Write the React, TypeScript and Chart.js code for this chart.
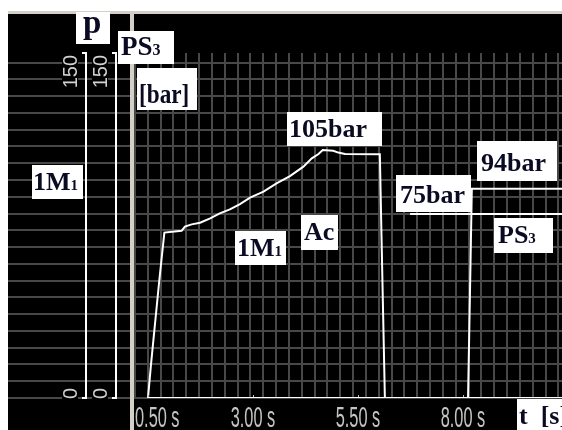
import React, { useEffect, useRef } from 'react';
import { Chart, registerables } from 'chart.js';

Chart.register(...registerables);

// ---- time axis (s) ----
const T_TICKS = [0.5, 3.0, 5.5, 8.0];
const T_TICK_LABELS = ['0.50 s', '3.00 s', '5.50 s', '8.00 s'];
const T_MIN = -2.833;
const T_MAX = 10.357;

// ---- pressure axes (bar) ----
const P_TICKS = [150, 0];
const P_TICK_LABELS = ['150', '0'];
const P_MIN = 0;
const P_MAX = 150;

// ---- 1M1 / Ac pressure curve ----
const T_1M1 = [0.5, 0.57, 0.77, 0.89, 1.30, 1.38, 1.54, 1.74, 1.98, 2.21, 2.45, 2.69, 2.93, 3.25, 3.56, 3.88, 4.20, 4.40, 4.56, 4.66, 4.91, 5.03, 5.19, 6.02, 6.06, 6.10, 6.14, 10.36];
const P_1M1 = [0, 14.3, 51.3, 71.9, 72.7, 74.5, 75.5, 76.2, 78.1, 80.3, 82.0, 84.3, 87.1, 89.7, 93.3, 96.5, 100.6, 104.2, 106.1, 107.8, 107.5, 106.7, 106.1, 106.0, 70.0, 34.8, 0, 0];

// ---- PS3 curve ----
const T_PS3 = [0.5, 8.12, 8.15, 8.18, 8.21, 10.36];
const P_PS3 = [0, 0, 30, 60, 91, 91];

// ---- 75 bar level line ----
const T_SET = [6.74, 10.36];
const P_SET = [80, 80];

// ---- background grid (screen grid of the simulator) ----
const GRID_X_COUNT = 33;
const GRID_Y_COUNT = 20;

// ---- annotation labels ----
type Run = [string, number];
const LABELS: { runs: Run[]; box: [number, number, number, number]; tx: number; ty: number; sx?: number }[] = [
  { runs: [['p', 33]], box: [76, 12, 34, 32], tx: 83, ty: 33 },
  { runs: [['PS', 27], ['3', 16]], box: [118, 31, 56, 33], tx: 121, ty: 55 },
  { runs: [['[bar]', 27]], box: [137, 68, 60, 42], tx: 139, ty: 103, sx: 0.86 },
  { runs: [['1M', 26], ['1', 15]], box: [32, 165, 51, 34], tx: 33, ty: 190 },
  { runs: [['1M', 26], ['1', 15]], box: [235, 231, 51, 34], tx: 237, ty: 256 },
  { runs: [['Ac', 26]], box: [301, 215, 37, 35], tx: 304, ty: 240 },
  { runs: [['105bar', 26]], box: [287, 112, 95, 34], tx: 289, ty: 137 },
  { runs: [['94bar', 26]], box: [477, 141, 80, 40], tx: 481, ty: 171 },
  { runs: [['75bar', 26]], box: [396, 175, 75, 37], tx: 400, ty: 203 },
  { runs: [['PS', 26], ['3', 15]], box: [494, 218, 59, 35], tx: 498, ty: 243 },
  { runs: [['t  [s]', 26]], box: [517, 399, 45, 31], tx: 519, ty: 424 },
];

const AXIS_X = [86, 116];

const toPts = (ts: number[], ps: number[]) => ts.map((t, i) => ({ x: t, y: ps[i] }));

const SERIF = "'Liberation Serif', 'Times New Roman', serif";
const SANS = "'Liberation Sans', Arial, sans-serif";

const bgPlugin = {
  id: 'bg',
  beforeDraw(chart: any) {
    const ctx = chart.ctx;
    ctx.save();
    ctx.fillStyle = '#ffffff';
    ctx.fillRect(0, 0, chart.width, chart.height);
    ctx.fillStyle = '#000000';
    ctx.fillRect(8, 14, chart.width - 8, chart.height - 14);
    ctx.fillStyle = '#d4d0c8';
    ctx.fillRect(8, 11, chart.width - 8, 3);
    ctx.restore();
  },
};

const overlayPlugin = {
  id: 'overlay',
  afterDraw(chart: any) {
    const ctx = chart.ctx;
    const xs = chart.scales.x;
    const ys = chart.scales.y;
    ctx.save();

    // separator bar
    ctx.fillStyle = '#d4d0c8';
    ctx.fillRect(130, 11, 4, chart.height - 11);
    const plotLeft = 134;

    // pressure axes
    const yTop = ys.getPixelForValue(P_MAX);
    const yBot = ys.getPixelForValue(P_MIN);
    ctx.font = `20px ${SANS}`;
    for (const ax of AXIS_X) {
      ctx.strokeStyle = '#ffffff';
      ctx.lineWidth = 2;
      ctx.beginPath();
      ctx.moveTo(ax - 4, yTop);
      ctx.lineTo(ax, yTop);
      ctx.lineTo(ax, yBot);
      ctx.lineTo(ax - 4, yBot);
      ctx.stroke();
      P_TICKS.forEach((v, i) => {
        const py = ys.getPixelForValue(v);
        const label = P_TICK_LABELS[i];
        const w = ctx.measureText(label).width;
        const start = i === 0 ? py + 2 + w : py + 1; // text runs upward from start
        ctx.fillStyle = '#000000';
        ctx.fillRect(ax - 24, start - w - 1, 16, w + 2);
        ctx.save();
        ctx.translate(ax - 9, start);
        ctx.rotate(-Math.PI / 2);
        ctx.fillStyle = '#d0d0d0';
        ctx.textAlign = 'left';
        ctx.textBaseline = 'alphabetic';
        ctx.fillText(label, 0, 0);
        ctx.restore();
      });
    }

    // time tick marks and labels
    ctx.font = `19px ${SANS}`;
    ctx.textBaseline = 'alphabetic';
    ctx.textAlign = 'left';
    const sx = 0.86;
    T_TICKS.forEach((v, i) => {
      const px = xs.getPixelForValue(v);
      ctx.fillStyle = '#bdbdbd';
      ctx.fillRect(Math.round(px), yBot - 3, 1, 2);
      const label = T_TICK_LABELS[i];
      const w = ctx.measureText(label).width * sx;
      const x0 = Math.max(plotLeft + 1, px - w / 2);
      ctx.save();
      ctx.translate(x0, 427);
      ctx.scale(sx, 1.6);
      ctx.fillStyle = '#c4c4c4';
      ctx.fillText(label, 0, 0);
      ctx.restore();
    });

    // annotation boxes
    for (const l of LABELS) {
      const [bx, by, bw, bh] = l.box;
      ctx.fillStyle = '#ffffff';
      ctx.fillRect(bx, by, bw, bh);
      ctx.save();
      ctx.translate(l.tx, l.ty);
      ctx.scale(l.sx ?? 1, 1);
      let x = 0;
      ctx.fillStyle = '#0a0a22';
      ctx.textAlign = 'left';
      for (const [t, s] of l.runs) {
        ctx.font = `bold ${s}px ${SERIF}`;
        ctx.fillText(t, x, 0);
        x += ctx.measureText(t).width;
      }
      ctx.restore();
    }
    ctx.restore();
  },
};

const gridColor = '#484848';

export default function App() {
  const ref = useRef<HTMLCanvasElement | null>(null);
  useEffect(() => {
    if (!ref.current) return;
    const lineStyle = {
      borderColor: '#ffffff',
      borderWidth: 2,
      pointRadius: 0,
      showLine: true,
      tension: 0,
      xAxisID: 'x',
      yAxisID: 'y',
    };
    const chart = new Chart(ref.current, {
      type: 'scatter',
      data: {
        datasets: [
          { label: 'PS3', data: toPts(T_PS3, P_PS3), ...lineStyle },
          { label: 'PS3 level', data: toPts(T_SET, P_SET), ...lineStyle },
          { label: '1M1', data: toPts(T_1M1, P_1M1), ...lineStyle },
        ],
      },
      options: {
        animation: false,
        responsive: false,
        devicePixelRatio: 1,
        layout: { padding: { left: 8, right: 0, top: 53, bottom: 32 } },
        plugins: { legend: { display: false }, tooltip: { enabled: false } },
        scales: {
          x: { type: 'linear', display: false, min: T_MIN, max: T_MAX },
          y: { type: 'linear', display: false, min: P_MIN, max: P_MAX },
          gx: {
            type: 'linear',
            position: 'bottom',
            min: -9.898,
            max: 33.281,
            afterBuildTicks: (s: any) => {
              s.ticks = Array.from({ length: GRID_X_COUNT + 1 }, (_, k) => ({ value: k }));
            },
            ticks: { display: false },
            grid: { drawTicks: false, color: gridColor, lineWidth: 2 },
            border: { display: false },
          },
          gy: {
            type: 'linear',
            position: 'left',
            min: 0,
            max: 20.572,
            afterBuildTicks: (s: any) => {
              s.ticks = Array.from({ length: GRID_Y_COUNT + 1 }, (_, k) => ({ value: k }));
            },
            ticks: { display: false },
            grid: { drawTicks: false, color: gridColor, lineWidth: 2 },
            border: { display: false },
          },
        },
      } as any,
      plugins: [bgPlugin, overlayPlugin],
    });
    return () => chart.destroy();
  }, []);
  return (
    <div style={{ position: 'absolute', left: 0, top: 0, width: 562, height: 430 }}>
      <canvas ref={ref} width={562} height={430} style={{ display: 'block' }} />
    </div>
  );
}
